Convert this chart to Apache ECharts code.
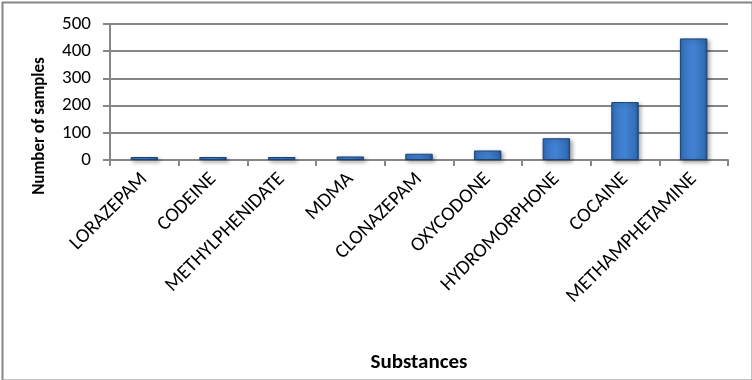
<!DOCTYPE html>
<html>
<head>
<meta charset="utf-8">
<script src="https://cdn.jsdelivr.net/npm/echarts@6/dist/echarts.min.js"></script>
<style>
html,body{margin:0;padding:0;background:#fff;}
#chart{width:752px;height:380px;}
</style>
</head>
<body>
<div id="chart"></div>
<script>
const categories = ['LORAZEPAM','CODEINE','METHYLPHENIDATE','MDMA','CLONAZEPAM','OXYCODONE','HYDROMORPHONE','COCAINE','METHAMPHETAMINE'];
const sampleCounts = [11, 11, 11, 13, 23, 35, 80, 213, 447];
const yTicks = [0, 100, 200, 300, 400, 500];
const yTitle = 'Number of samples';
const xTitle = 'Substances';

const FONT = 'Carlito, Lato, "Open Sans", sans-serif';
const chart = echarts.init(document.getElementById('chart'), null, {renderer:'canvas'});
chart.setOption({
  animation: false,
  backgroundColor: '#ffffff',
  graphic: [{
    type: 'rect', left: 0, top: 0, silent: true,
    shape: {x: 1, y: 1, width: 750, height: 378},
    style: {fill: 'none', stroke: '#868686', lineWidth: 2}
  }, {
    type: 'text', silent: true,
    x: 40, y: 126, rotation: Math.PI / 2,
    style: {text: yTitle, fontFamily: FONT, fontWeight: 'bold', fontSize: 17, fill: '#000',
            align: 'center', verticalAlign: 'middle'}
  }],
  grid: {left: 110, right: 24, top: 24, bottom: 220},
  xAxis: {
    type: 'category',
    data: categories,
    name: xTitle,
    nameLocation: 'middle',
    nameGap: 192,
    nameTextStyle: {fontFamily: FONT, fontWeight: 'bold', fontSize: 21, color: '#000'},
    axisLine: {lineStyle: {color: '#868686', width: 2}},
    axisTick: {show: true, length: 6, lineStyle: {color: '#868686', width: 2}},
    axisLabel: {interval: 0, rotate: 45, margin: 16, fontFamily: FONT, fontSize: 20, color: '#000'}
  },
  yAxis: {
    type: 'value',
    min: yTicks[0],
    max: yTicks[yTicks.length - 1],
    interval: 100,
    axisLine: {show: true, lineStyle: {color: '#868686', width: 2}},
    axisTick: {show: true, length: 7, lineStyle: {color: '#868686', width: 2}},
    splitLine: {lineStyle: {color: '#868686', width: 2}},
    axisLabel: {margin: 19, fontFamily: FONT, fontSize: 19, color: '#000'}
  },
  series: [{
    type: 'bar',
    data: sampleCounts,
    barWidth: '40%',
    itemStyle: {
      color: new echarts.graphic.LinearGradient(0, 0, 1, 0, [
        {offset: 0, color: '#2d62a8'},
        {offset: 0.12, color: '#3a78c6'},
        {offset: 0.5, color: '#4282d2'},
        {offset: 0.88, color: '#336eb8'},
        {offset: 1, color: '#24538f'}
      ]),
      borderColor: '#1c4374',
      borderWidth: 1,
      shadowColor: 'rgba(0,0,0,0.35)',
      shadowBlur: 4,
      shadowOffsetX: 2,
      shadowOffsetY: 2
    }
  }]
});
</script>
</body>
</html>
